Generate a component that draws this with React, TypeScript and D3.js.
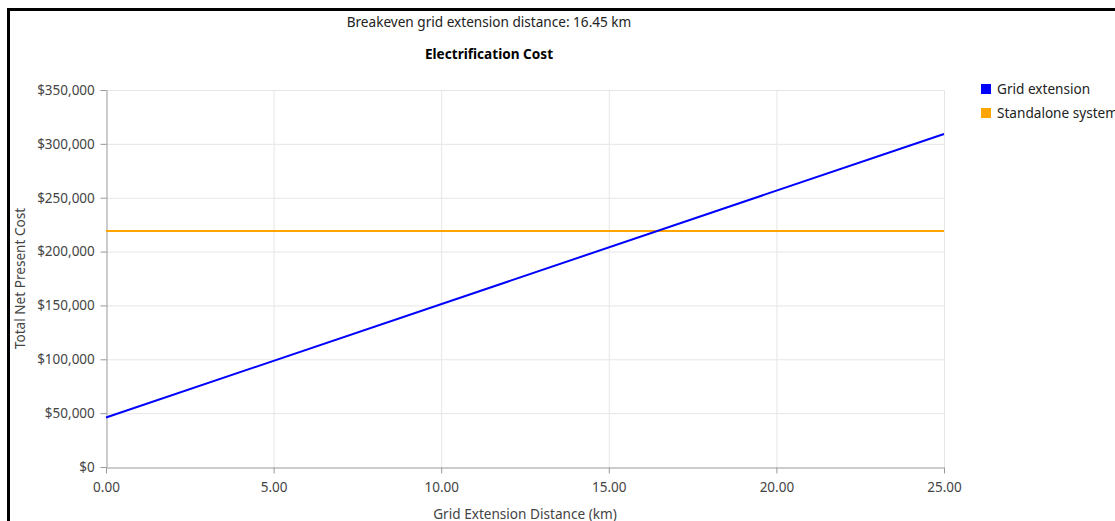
import React, { useEffect, useRef } from "react";
import * as d3 from "d3";

const distances = [0, 25];
const gridExtension = [45900, 309200];
const standalone = [219100, 219100];
const xTicks = [0, 5, 10, 15, 20, 25];
const yTicks = [0, 50000, 100000, 150000, 200000, 250000, 300000, 350000];
const seriesNames = ["Grid extension", "Standalone system"];
const seriesColors = ["#0000ff", "#ffa500"];
const subtitle = "Breakeven grid extension distance: 16.45 km";
const title = "Electrification Cost";
const xLabel = "Grid Extension Distance (km)";
const yLabel = "Total Net Present Cost";

const W = 1115;
const H = 521;
const FONT = "'Noto Sans', sans-serif";

export default function App() {
  const ref = useRef<SVGSVGElement>(null);
  useEffect(() => {
    const svg = d3.select(ref.current);
    svg.selectAll("*").remove();
    const m = { left: 106, right: 944, top: 90, bottom: 467 };
    const x = d3.scaleLinear().domain([0, 25]).range([m.left, m.right]);
    const y = d3.scaleLinear().domain([0, 350000]).range([m.bottom, m.top]);

    svg.append("rect").attr("x", 0).attr("y", 0).attr("width", W).attr("height", H).attr("fill", "#fff");
    // frame
    svg.append("path")
      .attr("d", `M8.5,${H + 5} V9.5 H${W + 5}`)
      .attr("fill", "none").attr("stroke", "#000").attr("stroke-width", 3);

    // grid
    const g = svg.append("g");
    g.selectAll("line.gy").data(yTicks.slice(1)).enter().append("line")
      .attr("x1", m.left).attr("x2", m.right)
      .attr("y1", (d) => y(d) + 0.5).attr("y2", (d) => y(d) + 0.5)
      .attr("stroke", "#e6e6e6").attr("stroke-width", 1);
    g.selectAll("line.gx").data(xTicks.slice(1)).enter().append("line")
      .attr("y1", m.top).attr("y2", m.bottom)
      .attr("x1", (d) => x(d) + 0.5).attr("x2", (d) => x(d) + 0.5)
      .attr("stroke", "#e6e6e6").attr("stroke-width", 1);

    // axes
    const axisColor = "#999";
    const textColor = "#444";
    const xa = svg.append("g").attr("transform", `translate(0,${m.bottom + 0.5})`)
      .call(d3.axisBottom(x).tickValues(xTicks).tickFormat((d) => d3.format(".2f")(d as number)).tickSize(6).tickSizeOuter(0));
    const ya = svg.append("g").attr("transform", `translate(${m.left + 0.5},0)`)
      .call(d3.axisLeft(y).tickValues(yTicks).tickFormat((d) => "$" + d3.format(",")(d as number)).tickSize(6).tickSizeOuter(0));
    [xa, ya].forEach((a) => {
      a.selectAll("path,line").attr("stroke", axisColor);
      a.selectAll("text").attr("fill", textColor).attr("font-family", FONT).attr("font-size", 13.5);
    });
    xa.selectAll("text").attr("dy", "1.15em");
    ya.selectAll("text").attr("dx", "-0.2em");

    // lines
    const line = d3.line<[number, number]>().x((d) => x(d[0])).y((d) => y(d[1]));
    [standalone, gridExtension].forEach((vals, i) => {
      const idx = i === 0 ? 1 : 0;
      svg.append("path")
        .datum(distances.map((d, j) => [d, vals[j]] as [number, number]))
        .attr("d", line)
        .attr("fill", "none")
        .attr("stroke", seriesColors[idx])
        .attr("stroke-width", 2);
    });

    // titles
    svg.append("text").attr("x", 489).attr("y", 27).attr("text-anchor", "middle")
      .attr("font-family", FONT).attr("font-size", 13.6).attr("fill", "#222").text(subtitle);
    svg.append("text").attr("x", 489).attr("y", 59).attr("text-anchor", "middle")
      .attr("font-family", FONT).attr("font-size", 13.6).attr("font-weight", "bold").attr("fill", "#000").text(title);
    svg.append("text").attr("x", (m.left + m.right) / 2).attr("y", 519).attr("text-anchor", "middle")
      .attr("font-family", FONT).attr("font-size", 13.6).attr("fill", textColor).text(xLabel);
    svg.append("text").attr("transform", `translate(25,${(m.top + m.bottom) / 2}) rotate(-90)`)
      .attr("text-anchor", "middle")
      .attr("font-family", FONT).attr("font-size", 13.6).attr("fill", textColor).text(yLabel);

    // legend
    seriesNames.forEach((name, i) => {
      const ly = 84 + i * 24;
      svg.append("rect").attr("x", 981).attr("y", ly).attr("width", 10).attr("height", 10).attr("fill", seriesColors[i]);
      svg.append("text").attr("x", 997).attr("y", ly + 10).attr("font-family", FONT)
        .attr("font-size", 13.6).attr("fill", "#222").text(name);
    });
  }, []);
  return (
    <div style={{ position: "absolute", left: 0, top: 0, width: W, height: H, overflow: "hidden" }}>
      <svg ref={ref} width={W} height={H} style={{ display: "block" }} />
    </div>
  );
}
